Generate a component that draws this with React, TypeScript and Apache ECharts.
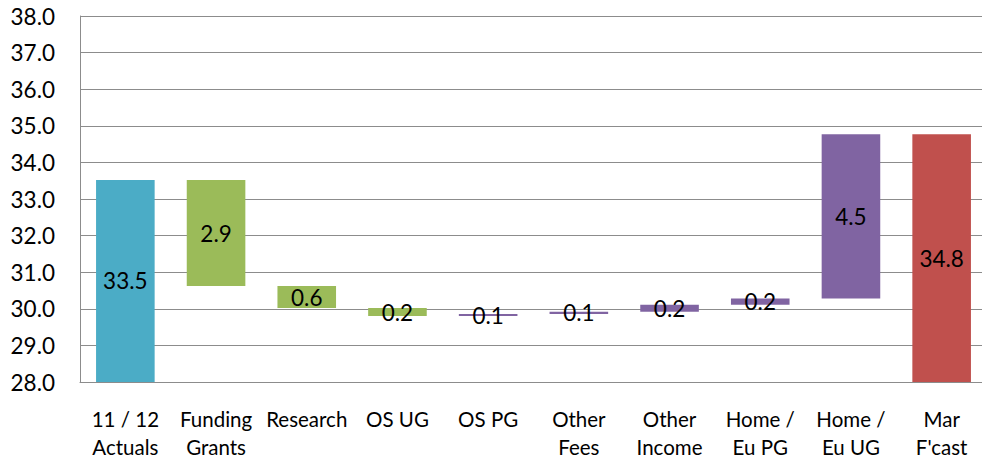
import React, { useEffect, useRef } from "react";
import * as echarts from "echarts";

// Bridge from the 11/12 actuals to the March forecast (£m)
const categories = [
  "11 / 12\nActuals",
  "Funding\nGrants",
  "Research",
  "OS UG",
  "OS PG",
  "Other\nFees",
  "Other\nIncome",
  "Home /\nEu PG",
  "Home /\nEu UG",
  "Mar\nF'cast",
];
const openingValue = 33.52;
const changes = [-2.9, -0.6, -0.22, 0.06, 0.06, 0.19, 0.17, 4.49];
const closingValue = 34.77;

const yTicks = { min: 28, max: 38, interval: 1 };

const COLOR_TOTAL_START = "#4BACC6";
const COLOR_DECREASE = "#9BBB59";
const COLOR_INCREASE = "#8064A2";
const COLOR_TOTAL_END = "#C0504D";
const FONT = "Lato, 'Open Sans', sans-serif";

export default function App() {
  const ref = useRef<HTMLDivElement>(null);

  useEffect(() => {
    if (!ref.current) return;
    const chart = echarts.init(ref.current, null, { renderer: "svg" });

    // Build the invisible base and the visible step for every column
    const baseData: number[] = [];
    const stepData: any[] = [];
    const labels: string[] = [];

    baseData.push(0);
    stepData.push({ value: openingValue, itemStyle: { color: COLOR_TOTAL_START } });
    labels.push(openingValue.toFixed(1));

    let running = openingValue;
    changes.forEach((d) => {
      const next = running + d;
      baseData.push(Math.min(running, next));
      stepData.push({
        value: Math.abs(d),
        itemStyle: { color: d < 0 ? COLOR_DECREASE : COLOR_INCREASE },
      });
      labels.push(Math.abs(d).toFixed(1));
      running = next;
    });

    baseData.push(0);
    stepData.push({ value: closingValue, itemStyle: { color: COLOR_TOTAL_END } });
    labels.push(closingValue.toFixed(1));

    chart.setOption({
      animation: false,
      textStyle: { fontFamily: FONT },
      grid: { left: 80, right: 3, top: 16, bottom: 80, containLabel: false },
      xAxis: {
        type: "category",
        data: categories,
        axisLine: { show: true, lineStyle: { color: "#8c8c8c", width: 1 } },
        axisTick: { show: false },
        axisLabel: {
          color: "#000",
          fontSize: 20.5,
          fontFamily: FONT,
          lineHeight: 28,
          margin: 23,
          interval: 0,
        },
      },
      yAxis: {
        type: "value",
        min: yTicks.min,
        max: yTicks.max,
        interval: yTicks.interval,
        axisLine: { show: true, lineStyle: { color: "#8c8c8c", width: 1 } },
        axisTick: { show: false },
        splitLine: { show: true, lineStyle: { color: "#8c8c8c", width: 1 } },
        axisLabel: {
          color: "#000",
          fontSize: 22.5,
          fontFamily: FONT,
          margin: 25,
          formatter: (v: number) => v.toFixed(1),
        },
      },
      series: [
        {
          type: "bar",
          stack: "bridge",
          data: baseData,
          barWidth: "64.6%",
          itemStyle: { color: "transparent" },
          emphasis: { disabled: true },
          silent: true,
        },
        {
          type: "bar",
          stack: "bridge",
          data: stepData,
          barWidth: "64.6%",
          label: {
            show: true,
            position: "inside",
            color: "#000",
            fontSize: 22.5,
            fontFamily: FONT,
            formatter: (p: any) => labels[p.dataIndex],
          },
        },
      ],
    });

    return () => chart.dispose();
  }, []);

  // The plot runs a few pixels past the right edge of the view
  return (
    <div
      style={{
        position: "absolute",
        left: 0,
        top: 0,
        width: 982,
        height: 462,
        overflow: "hidden",
      }}
    >
      <div ref={ref} style={{ width: 990, height: 462 }} />
    </div>
  );
}
